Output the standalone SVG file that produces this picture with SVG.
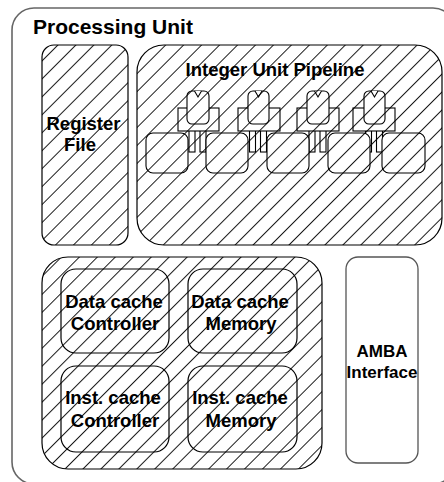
<svg xmlns="http://www.w3.org/2000/svg" width="444" height="482" viewBox="0 0 444 482">
<defs>
<pattern id="hatch" patternUnits="userSpaceOnUse" width="12.7" height="12.7" patternTransform="rotate(45)">
<rect width="12.7" height="12.7" fill="#fff"/>
<line x1="9.3" y1="0" x2="9.3" y2="12.7" stroke="#000" stroke-width="0.9"/>
</pattern>
<style>
.outer{fill:none;stroke:#666;stroke-width:1.6}
.hb{fill:url(#hatch);stroke:#000;stroke-width:1.2}
.pl{fill:url(#hatch);stroke:#000;stroke-width:1.1}
.plain{fill:#fff;stroke:#555;stroke-width:1.3}
.t{font-family:"Liberation Sans",Arial,sans-serif;font-weight:bold;fill:#000;text-anchor:middle}
.lbl{font-size:18.5px}
</style>
</defs>
<rect width="444" height="482" fill="#fff"/>
<g id="processing-unit">
<rect class="outer" x="12" y="8" width="443" height="476" rx="22"/>
<text class="t" x="33" y="34" style="font-size:21px;text-anchor:start">Processing Unit</text>
</g>
<g id="register-file">
<rect class="hb" x="42" y="45" width="86" height="200" rx="12"/>
<text class="t lbl" x="83.5" y="130">Register</text>
<text class="t lbl" x="80" y="151">File</text>
</g>
<g id="integer-unit-pipeline">
<rect class="hb" x="137" y="45" width="305" height="200" rx="27"/>
<text class="t lbl" x="275" y="76">Integer Unit Pipeline</text>
<g id="pipeline-stages">
<g id="stage-reg-1">
<rect class="pl" x="189" y="128" width="6" height="24"/>
<rect class="pl" x="200" y="128" width="6" height="24"/>
<rect class="pl" x="178" y="108" width="41" height="23"/>
<rect class="pl" x="187" y="91" width="22" height="33" rx="5"/>
<path class="pl" d="M194.5,91 L198,97 L201.5,91" fill="none"/>
</g>
<g id="stage-reg-2">
<rect class="pl" x="249.5" y="128" width="6" height="24"/>
<rect class="pl" x="260.5" y="128" width="6" height="24"/>
<rect class="pl" x="238" y="108" width="42" height="23"/>
<rect class="pl" x="248" y="91" width="21" height="33" rx="5"/>
<path class="pl" d="M255,91 L258.5,97 L262,91" fill="none"/>
</g>
<g id="stage-reg-3">
<rect class="pl" x="309" y="128" width="6" height="24"/>
<rect class="pl" x="320" y="128" width="6" height="24"/>
<rect class="pl" x="297" y="108" width="42" height="23"/>
<rect class="pl" x="307" y="91" width="22" height="33" rx="5"/>
<path class="pl" d="M314.5,91 L318,97 L321.5,91" fill="none"/>
</g>
<g id="stage-reg-4">
<rect class="pl" x="365.5" y="128" width="6" height="24"/>
<rect class="pl" x="376.5" y="128" width="6" height="24"/>
<rect class="pl" x="353" y="108" width="42" height="23"/>
<rect class="pl" x="364" y="91" width="21" height="33" rx="5"/>
<path class="pl" d="M371,91 L374.5,97 L378,91" fill="none"/>
</g>
<g id="stage-logic">
<rect class="pl" x="146" y="133" width="42" height="40" rx="7"/>
<rect class="pl" x="206" y="133" width="42" height="40" rx="7"/>
<rect class="pl" x="267" y="133" width="42" height="40" rx="7"/>
<rect class="pl" x="328" y="133" width="42" height="40" rx="7"/>
<rect class="pl" x="382" y="133" width="43" height="40" rx="7"/>
</g>
</g>
</g>
<g id="cache-subsystem">
<rect class="hb" x="42" y="257" width="280" height="212" rx="26"/>
</g>
<g id="data-cache-controller">
<rect class="hb" x="61" y="269" width="108" height="84" rx="15"/>
<text class="t lbl" x="114" y="308">Data cache</text>
<text class="t lbl" x="115" y="330">Controller</text>
</g>
<g id="data-cache-memory">
<rect class="hb" x="188" y="269" width="109" height="84" rx="15"/>
<text class="t lbl" x="240" y="308">Data cache</text>
<text class="t lbl" x="241" y="330">Memory</text>
</g>
<g id="inst-cache-controller">
<rect class="hb" x="61" y="366" width="108" height="86" rx="15"/>
<text class="t lbl" x="113" y="404">Inst. cache</text>
<text class="t lbl" x="115" y="427">Controller</text>
</g>
<g id="inst-cache-memory">
<rect class="hb" x="188" y="366" width="109" height="86" rx="15"/>
<text class="t lbl" x="240" y="404">Inst. cache</text>
<text class="t lbl" x="241" y="427">Memory</text>
</g>
<g id="amba-interface">
<rect class="plain" x="346" y="257" width="72" height="206" rx="12"/>
<text class="t" x="382" y="357" style="font-size:17px">AMBA</text>
<text class="t" x="382" y="378" style="font-size:17px">Interface</text>
</g>
<g id="connectors"></g>
</svg>
